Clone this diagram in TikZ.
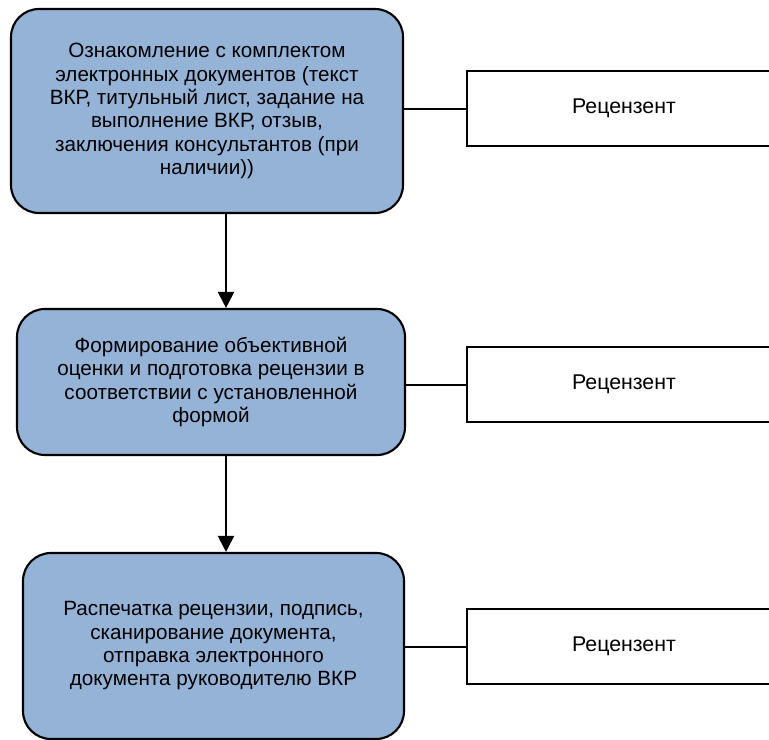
\documentclass[tikz,border=0pt]{standalone}
\usepackage{fontspec}
\setmainfont{Liberation Sans}
\usetikzlibrary{arrows.meta}
\definecolor{stepblue}{RGB}{149,179,215}

\begin{document}
\begin{tikzpicture}[x=0.75pt,y=-0.75pt,line width=1.5pt,>={Triangle[length=12pt,width=12pt]},
  step node/.style={rectangle,rounded corners=21pt,fill=stepblue,draw,line width=1.6pt,align=center,inner sep=0pt,font=\fontsize{15.5}{17.5}\selectfont},
  role node/.style={rectangle,draw,fill=white,line width=1.6pt,minimum width=235.5pt,minimum height=56.25pt,inner sep=0pt,font=\fontsize{16}{18}\selectfont}]
  \useasboundingbox (0,0) rectangle (769,740);
  \clip (0,0) rectangle (769,740);

  \node[step node,minimum width=294pt,minimum height=153pt] (s1) at (207,111) {Ознакомление с комплектом\\электронных документов (текст\\ВКР, титульный лист, задание на\\выполнение ВКР, отзыв,\\заключения консультантов (при\\наличии))};
  \node[step node,minimum width=291pt,minimum height=109.5pt] (s2) at (211,382) {Формирование объективной\\оценки и подготовка рецензии в\\соответствии с установленной\\формой};
  \node[step node,minimum width=285.75pt,minimum height=139.5pt] (s3) at (213.5,646) {Распечатка рецензии, подпись,\\сканирование документа,\\отправка электронного\\документа руководителю ВКР};

  \node[role node] (r1) at (624,108.5) {Рецензент};
  \node[role node] (r2) at (624,384.5) {Рецензент};
  \node[role node] (r3) at (624,646.5) {Рецензент};

\path[->]
  (s1.south -| 226,0) edge (s2.north -| 226,0)
  (s2.south -| 226,0) edge (s3.north -| 226,0);
\path
  (s1.east |- r1) edge (r1.west)
  (s2.east |- r2) edge (r2.west)
  (s3.east |- r3) edge (r3.west);
\end{tikzpicture}
\end{document}
